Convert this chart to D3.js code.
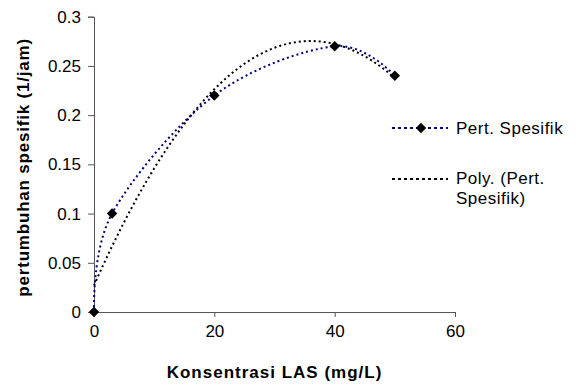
<!DOCTYPE html>
<html lang="en">
<head>
<meta charset="utf-8">
<title>Pertumbuhan spesifik</title>
<script src="https://cdn.jsdelivr.net/npm/d3@7"></script>
<style>
  body { margin: 0; background: #fff; }
  text { font-family: "Liberation Sans", Arial, sans-serif; fill: #000; }
</style>
</head>
<body>
<script>
// data
var konsentrasi = [0, 3, 20, 40, 50];
var pertSpesifik = [0, 0.1, 0.22, 0.27, 0.24];
var xTicks = [0, 20, 40, 60];
var yTicks = [0, 0.05, 0.1, 0.15, 0.2, 0.25, 0.3];
var seriesName = "Pert. Spesifik";
var trendName = ["Poly. (Pert.", "Spesifik)"];

var w = 576, h = 385;
var plotLeft = 94, plotRight = 455, plotTop = 16.7, plotBottom = 312;

var svg = d3.select("body").append("svg")
    .attr("width", w)
    .attr("height", h);

var x = d3.scaleLinear().domain([0, 60]).range([plotLeft, plotRight]);
var y = d3.scaleLinear().domain([0, 0.3]).range([plotBottom, plotTop]);

// y axis
var yAxis = d3.axisLeft(y).tickValues(yTicks).tickSize(6).tickPadding(7)
    .tickFormat(function(d) { return String(+d.toFixed(2)); });
var gy = svg.append("g").attr("transform", "translate(" + plotLeft + ",0)").call(yAxis);
gy.select(".domain").attr("stroke", "#555");
gy.selectAll(".tick line").attr("stroke", "#555");
gy.selectAll(".tick text").attr("font-size", "17px").attr("font-family", "Liberation Sans, Arial, sans-serif");

// x axis
var xAxis = d3.axisBottom(x).tickValues(xTicks).tickSize(5).tickPadding(18);
var gx = svg.append("g").attr("transform", "translate(0," + plotBottom + ")").call(xAxis);
gx.select(".domain").attr("stroke", "#555");
gx.selectAll(".tick line").attr("stroke", "#555");
gx.selectAll(".tick text").attr("font-size", "17px").attr("font-family", "Liberation Sans, Arial, sans-serif")
    .attr("dy", "0.1em");

// axis titles
svg.append("text")
    .attr("x", (plotLeft + plotRight) / 2)
    .attr("y", 378)
    .attr("text-anchor", "middle")
    .attr("font-size", "17px")
    .attr("font-weight", "bold")
    .attr("letter-spacing", "1px")
    .text("Konsentrasi LAS (mg/L)");

svg.append("text")
    .attr("transform", "translate(28.5," + ((plotTop + plotBottom) / 2 + 3) + ") rotate(-90)")
    .attr("text-anchor", "middle")
    .attr("font-size", "17px")
    .attr("font-weight", "bold")
    .attr("letter-spacing", "0.8px")
    .text("pertumbuhan spesifik (1/jam)");

// polynomial (order 2) least-squares trendline from the data
function polyFit(xs, ys) {
    var s = [0, 0, 0, 0, 0], t = [0, 0, 0];
    xs.forEach(function(xv, i) {
        for (var k = 0; k < 5; k++) s[k] += Math.pow(xv, k);
        for (var k2 = 0; k2 < 3; k2++) t[k2] += ys[i] * Math.pow(xv, k2);
    });
    var m = [[s[0], s[1], s[2], t[0]], [s[1], s[2], s[3], t[1]], [s[2], s[3], s[4], t[2]]];
    for (var i = 0; i < 3; i++) {
        for (var j = i + 1; j < 3; j++) {
            var f = m[j][i] / m[i][i];
            for (var k = i; k < 4; k++) m[j][k] -= f * m[i][k];
        }
    }
    var c = [0, 0, 0];
    for (var i2 = 2; i2 >= 0; i2--) {
        var sum = m[i2][3];
        for (var k3 = i2 + 1; k3 < 3; k3++) sum -= m[i2][k3] * c[k3];
        c[i2] = sum / m[i2][i2];
    }
    return c;
}
var coef = polyFit(konsentrasi, pertSpesifik);
var trendX = d3.range(0, 50.01, 0.5);

svg.append("path")
    .datum(trendX)
    .attr("fill", "none")
    .attr("stroke", "#000")
    .attr("stroke-width", 2)
    .attr("stroke-dasharray", "2,3")
    .attr("d", d3.line()
        .x(function(d) { return x(d); })
        .y(function(d) { return y(coef[0] + coef[1] * d + coef[2] * d * d); }));

// smoothed series line
svg.append("path")
    .datum(konsentrasi)
    .attr("fill", "none")
    .attr("stroke", "#000080")
    .attr("stroke-width", 2)
    .attr("stroke-dasharray", "2,3")
    .attr("d", d3.line()
        .curve(d3.curveCardinal.tension(0))
        .x(function(d) { return x(d); })
        .y(function(d, i) { return y(pertSpesifik[i]); }));

var diamond = d3.symbol().type(d3.symbolDiamond2).size(70);
svg.selectAll("path.pt")
    .data(konsentrasi)
    .enter()
    .append("path")
    .attr("class", "pt")
    .attr("transform", function(d, i) { return "translate(" + x(d) + "," + y(pertSpesifik[i]) + ")"; })
    .attr("d", diamond)
    .attr("fill", "#000");

// legend
var lg = svg.append("g");
lg.append("line").attr("x1", 392).attr("x2", 448).attr("y1", 128).attr("y2", 128)
    .attr("stroke", "#000080").attr("stroke-width", 2).attr("stroke-dasharray", "3,3");
lg.append("path").attr("transform", "translate(421,128)").attr("d", diamond).attr("fill", "#000");
lg.append("text").attr("x", 456).attr("y", 134).attr("font-size", "17px")
    .attr("letter-spacing", "0.5px").text(seriesName);

lg.append("line").attr("x1", 392).attr("x2", 448).attr("y1", 179).attr("y2", 179)
    .attr("stroke", "#000").attr("stroke-width", 2).attr("stroke-dasharray", "3,3");
lg.selectAll("text.tr")
    .data(trendName)
    .enter()
    .append("text")
    .attr("class", "tr")
    .attr("x", 456)
    .attr("y", function(d, i) { return 184 + i * 20; })
    .attr("font-size", "17px")
    .attr("letter-spacing", "0.5px")
    .text(function(d) { return d; });
</script>
</body>
</html>
